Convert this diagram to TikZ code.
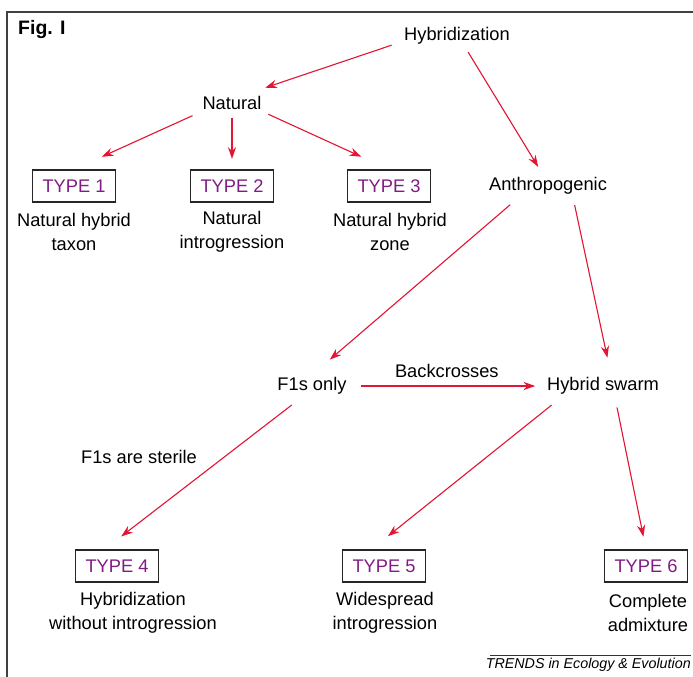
\documentclass[tikz,border=0pt]{standalone}
\usepackage{fontspec}
\setmainfont{Liberation Sans}
\usetikzlibrary{arrows.meta}
\definecolor{arrowred}{RGB}{226,22,52}
\definecolor{typepurple}{RGB}{128,28,132}
\tikzstyle{term}=[inner sep=2pt,font=\fontsize{15.6}{20.5}\selectfont]
\tikzstyle{typebox}=[draw=black!85,line width=1.1pt,minimum width=70.8pt,minimum height=27.3pt,inner sep=0pt,text=typepurple,font=\fontsize{15.6}{20.5}\selectfont]
\tikzstyle{desc}=[align=center,inner sep=0pt,font=\fontsize{15.6}{20.5}\selectfont]
\tikzstyle{edge}=[draw=arrowred,line width=0.95pt,-{Stealth[length=10pt,width=7pt]}]

\begin{document}
\begin{tikzpicture}[x=0.03cm,y=-0.03cm]
        \useasboundingbox (0,0) rectangle (693,677);
        % frame
        \draw[black!75,line width=1.2pt] (693,12) -- (7,12) -- (7,677);
        \node[anchor=west,inner sep=0pt,font=\fontsize{16.6}{18}\selectfont\bfseries] (fig) at (18,30) {Fig. I};
        % levels
        \node[term] (hyb) at (457,36) {Hybridization};
        \node[term] (nat) at (232,103) {Natural};
        \node[term] (anth) at (548,186) {Anthropogenic};
        \node[term] (f1) at (312,386) {F1s only};
        \node[term] (swarm) at (603,386) {Hybrid swarm};
        % types
        \node[typebox] (t1) at (74,186) {TYPE 1};
        \node[typebox] (t2) at (232,186) {TYPE 2};
        \node[typebox] (t3) at (389,186) {TYPE 3};
        \node[typebox] (t4) at (117,566) {TYPE 4};
        \node[typebox] (t5) at (384,566) {TYPE 5};
        \node[typebox] (t6) at (646,566) {TYPE 6};
        \node[desc] (d1) at (74,232) {Natural hybrid\\taxon};
        \node[desc] (d2) at (232,232) {Natural\\introgression};
        \node[desc] (d3) at (390,232) {Natural hybrid\\zone};
        \node[desc] (d4) at (133,613) {Hybridization\\without introgression};
        \node[desc] (d5) at (385,613) {Widespread\\introgression};
        \node[desc] (d6) at (648,613) {Complete\\admixture};
        \node[term] (steril) at (139,457) {F1s are sterile};
        % connectors
        \path[edge,shorten <=9pt,shorten >=16pt] (hyb.186) -- (nat.31);
        \path[edge,shorten <=5pt,shorten >=8pt] (hyb.-54) -- (anth.114);
        \path[edge,shorten <=7pt,shorten >=26pt] (nat.south west) -- (t1.north);
        \path[edge,shorten <=5pt,shorten >=9pt] (nat.south) -- (t2.north);
        \path[edge,shorten <=4pt,shorten >=26pt] (nat.south east) -- (t3.north);
        \path[edge,shorten <=10pt,shorten >=20pt] (anth.201) -- (f1.north);
        \path[edge,shorten <=7pt,shorten >=15pt] (anth.-24) -- (swarm.54);
        \path[edge,shorten <=10pt,shorten >=8pt] (f1.east) -- node[term,above=5pt] (back) {Backcrosses} (swarm.west);
        \path[edge,shorten <=11pt,shorten >=18pt] (f1.228) -- (t4.127);
        \path[edge,shorten <=11pt,shorten >=18pt] (swarm.195) -- (t5.127);
        \path[edge,shorten <=9pt,shorten >=11pt] (swarm.-43) -- (t6.north);
        % source line
        \coordinate (srcl) at (490,655);
        \coordinate (srcr) at (691,655);
        \draw[black!80,line width=0.8pt] (srcl) -- (srcr);
        \node[anchor=north east,inner sep=0pt,font=\fontsize{12.2}{13}\selectfont\itshape] (src) at (691,658) {TRENDS in Ecology \& Evolution};
    \end{tikzpicture}
\end{document}
